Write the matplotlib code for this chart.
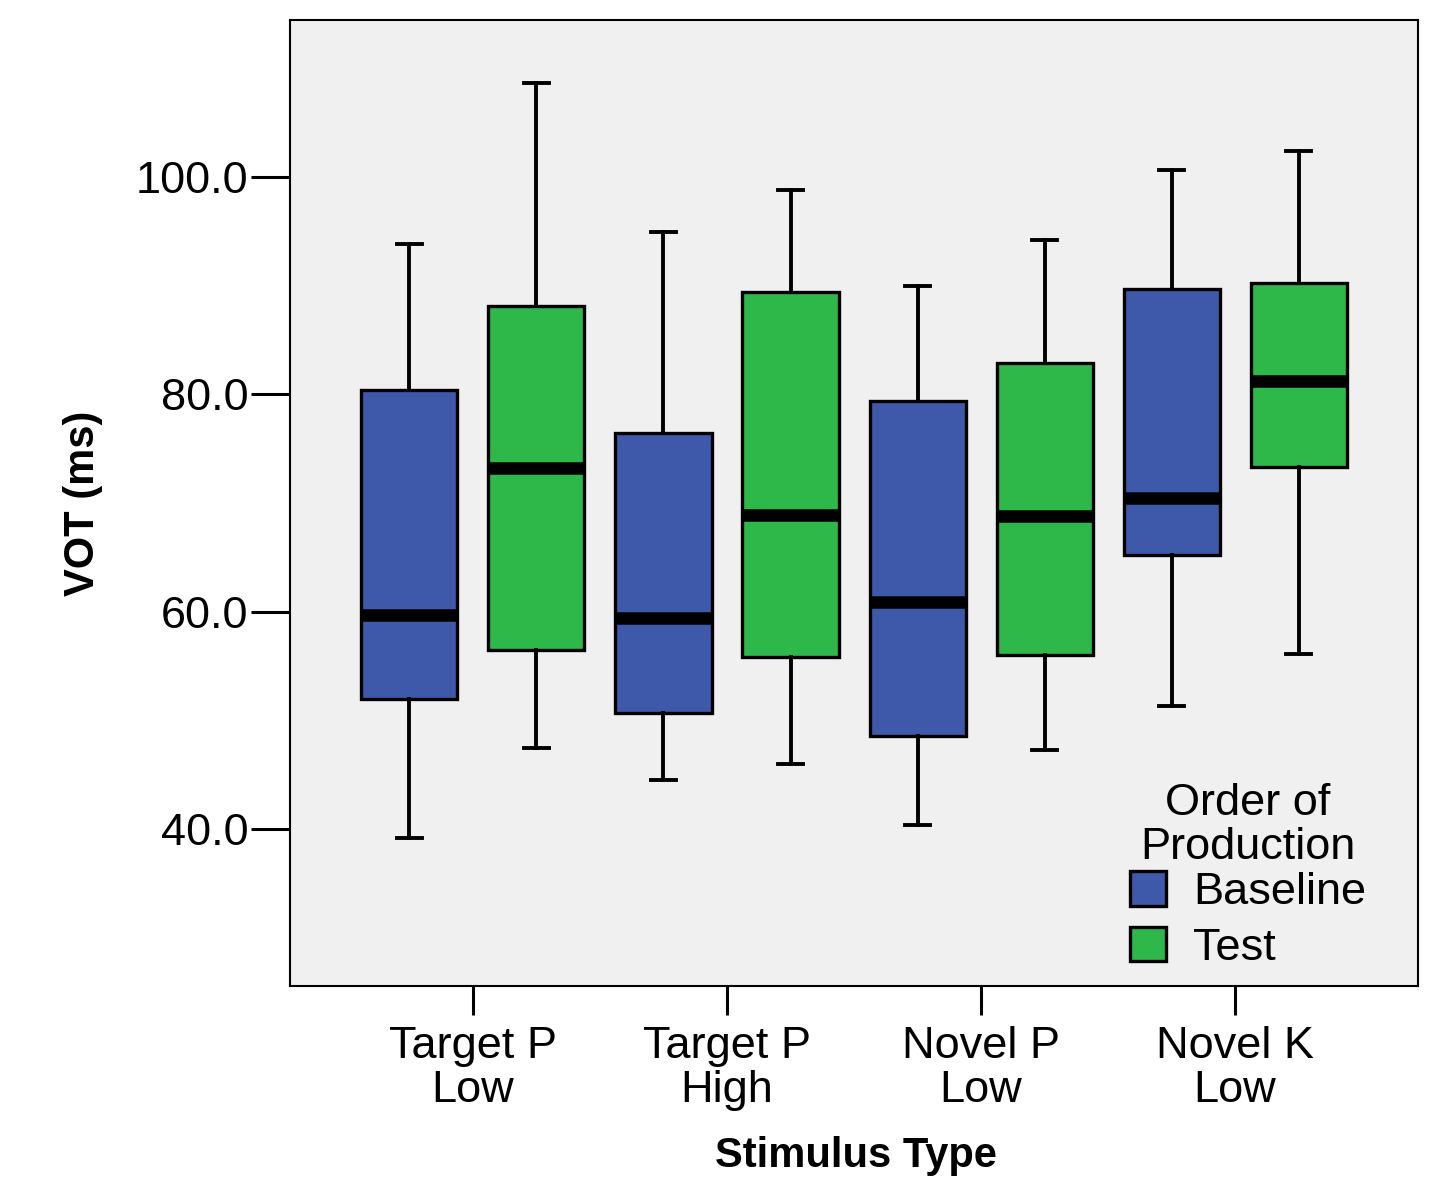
import matplotlib
matplotlib.use("Agg")
import matplotlib.pyplot as plt
from matplotlib.patches import Patch

plt.rcParams['font.family'] = ['Liberation Sans', 'DejaVu Sans']

categories = ["Target P\nLow", "Target P\nHigh", "Novel P\nLow", "Novel K\nLow"]
series = ["Baseline", "Test"]
colors = ["#3F59AA", "#2FB84A"]

# whisker low, Q1, median, Q3, whisker high
baseline_wlo = [39.2, 44.5, 40.4, 51.3]
baseline_q1 = [52.0, 50.7, 48.6, 65.2]
baseline_med = [59.7, 59.4, 60.9, 70.5]
baseline_q3 = [80.4, 76.4, 79.4, 89.7]
baseline_whi = [93.8, 94.9, 90.0, 100.6]

test_wlo = [47.5, 46.0, 47.3, 56.1]
test_q1 = [56.5, 55.8, 56.0, 73.3]
test_med = [73.2, 68.9, 68.8, 81.2]
test_q3 = [88.1, 89.4, 82.9, 90.2]
test_whi = [108.6, 98.8, 94.2, 102.4]

yticks = [40.0, 60.0, 80.0, 100.0]

data = [
    (baseline_wlo, baseline_q1, baseline_med, baseline_q3, baseline_whi),
    (test_wlo, test_q1, test_med, test_q3, test_whi),
]

fig = plt.figure(figsize=(14.41, 11.77), dpi=100)
ax = fig.add_axes([0.2013, 0.1623, 0.9840 - 0.2013, 0.983 - 0.1623])
ax.set_facecolor("#F0F0F0")

offsets = [-0.25, 0.25]
width = 0.378
for s, (wlo, q1, med, q3, whi) in enumerate(data):
    stats = []
    for i in range(len(categories)):
        stats.append(dict(whislo=wlo[i], q1=q1[i], med=med[i], q3=q3[i], whishi=whi[i], fliers=[]))
    pos = [i + offsets[s] for i in range(len(categories))]
    ax.bxp(stats, positions=pos, widths=width, patch_artist=True, showfliers=False,
           boxprops=dict(facecolor=colors[s], edgecolor="black", linewidth=2.4),
           medianprops=dict(color="black", linewidth=9, solid_capstyle="butt"),
           whiskerprops=dict(color="black", linewidth=2.8),
           capprops=dict(color="black", linewidth=2.8),
           capwidths=0.1, manage_ticks=False)

ax.set_xlim(-0.72, 3.72)
ax.set_ylim(25.56, 114.44)
ax.set_xticks(range(len(categories)))
ax.set_xticklabels(categories, fontsize=32.5, linespacing=1.1)
ax.set_yticks(yticks)
ax.set_yticklabels([f"{v:.1f}" for v in yticks], fontsize=32.5)
ax.tick_params(axis="y", length=28, width=2.2, pad=2)
ax.tick_params(axis="x", length=21, width=2.2, pad=8)
for sp in ax.spines.values():
    sp.set_linewidth(1.5)

ax.set_ylabel("VOT (ms)", fontsize=30, fontweight="bold", va="center")
ax.yaxis.set_label_coords(-0.184, 0.5)
ax.set_xlabel("Stimulus Type", fontsize=30, fontweight="bold", va="center")
ax.xaxis.set_label_coords(0.502, -0.176)

handles = [Patch(facecolor=colors[k], edgecolor="black", linewidth=2.4, label=series[k]) for k in range(2)]
leg = ax.legend(handles=handles, title="Order of\nProduction", loc="lower right",
                bbox_to_anchor=(0.99, -0.024), frameon=False, fontsize=32.5, title_fontsize=32.5,
                handlelength=0.8, handleheight=0.8, handletextpad=0.6, labelspacing=0.3)
leg.get_title().set_multialignment("center")
leg.get_title().set_linespacing(1.1)
leg._legend_box.sep = 2

fig.savefig("out.png", dpi=100)
